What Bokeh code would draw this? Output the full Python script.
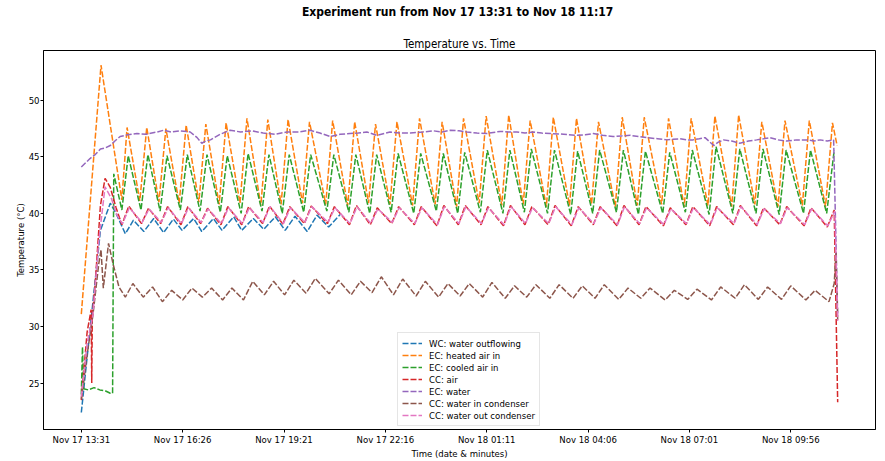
import pandas as pd
from bokeh.plotting import figure
from bokeh.models import (Range1d, FixedTicker, DatetimeTickFormatter, Title,
                          Legend, LegendItem, ColumnDataSource)
from bokeh.embed import file_html
from bokeh.resources import INLINE

# ---------------- data (minutes after 13:31 on Nov 17, temperature in C) ----------------
START = "Nov 17 13:31 2023"
END = "Nov 18 11:17 2023"
suptitle_text = "Experiment run from Nov 17 13:31  to Nov 18 11:17"
title_text = "Temperature vs. Time"
x_label = "Time (date & minutes)"
y_label = "Temperature (°C)"
tick_labels = ["Nov 17 13:31", "Nov 17 16:26", "Nov 17 19:21", "Nov 17 22:16",
               "Nov 18 01:11", "Nov 18 04:06", "Nov 18 07:01", "Nov 18 09:56"]
y_ticks = [25, 30, 35, 40, 45, 50]

names = ["WC: water outflowing", "EC: heated air in", "EC: cooled air in", "CC: air",
         "EC: water", "CC: water in condenser", "CC: water out condenser"]
colors = ["#1f77b4", "#ff7f0e", "#2ca02c", "#d62728", "#9467bd", "#8c564b", "#e377c2"]

wc_out_t = [0, 33, 50, 60, 76, 90, 108, 125, 142, 159, 174, 194, 208, 228, 243, 263, 277,
            297, 315, 335, 352, 369, 390, 407, 427, 447]
wc_out_v = [22.4, 38.5, 40.9, 40.0, 38.2, 39.4, 38.4, 39.55, 38.3, 39.5, 38.5, 39.55, 38.4,
            39.55, 38.5, 39.7, 38.5, 39.55, 38.6, 39.7, 38.5, 39.75, 38.4, 39.85, 38.8, 39.9]

ec_heated_t = [0, 34, 70, 79, 101, 113, 134, 146, 169, 181, 203, 215, 238, 250, 274, 286,
               310, 322, 345, 357, 382, 394, 422, 434, 460, 472, 496, 508, 533, 545, 572,
               584, 611, 623, 648, 660, 687, 699, 726, 738, 763, 775, 803, 815, 843, 855,
               881, 893, 922, 934, 960, 972, 1002, 1014, 1041, 1053, 1082, 1094, 1123,
               1135, 1163, 1175, 1203, 1215, 1245, 1257, 1285, 1297, 1305]
ec_heated_v = [31.1, 53.1, 41.2, 47.6, 41.1, 47.6, 41.0, 47.5, 40.9, 47.8, 41.0, 47.9,
               40.8, 48.0, 40.9, 48.4, 40.7, 48.3, 40.8, 48.3, 40.9, 48.1, 40.8, 48.2,
               40.7, 48.1, 40.9, 47.9, 40.8, 48.1, 40.7, 48.4, 40.8, 48.1, 40.6, 48.4,
               40.9, 48.6, 40.7, 48.7, 40.8, 48.2, 40.6, 48.5, 40.7, 48.4, 40.8, 48.1,
               40.6, 48.5, 40.7, 48.5, 40.8, 48.4, 40.6, 48.4, 40.7, 48.6, 40.6, 48.7,
               40.8, 48.1, 40.6, 48.2, 40.7, 48.2, 40.6, 48.0, 46.0]

ec_cooled_t = [0, 2, 4, 12, 22, 32, 42, 50, 54, 56, 70, 81, 103, 115, 136, 148, 171, 183,
               205, 217, 240, 252, 276, 288, 312, 324, 347, 359, 384, 396, 424, 436, 462,
               474, 498, 510, 535, 547, 574, 586, 613, 625, 650, 662, 689, 701, 728, 740,
               765, 777, 805, 817, 845, 857, 883, 895, 924, 936, 962, 974, 1004, 1016,
               1043, 1055, 1084, 1096, 1125, 1137, 1165, 1177, 1205, 1217, 1247, 1259,
               1287, 1300]
ec_cooled_v = [24.0, 28.2, 24.5, 24.4, 24.6, 24.4, 24.3, 24.1, 24.1, 43.5, 40.3, 45.1,
               40.3, 45.2, 40.2, 45.1, 40.3, 45.2, 40.2, 45.2, 40.1, 45.1, 40.0, 45.3,
               40.2, 45.2, 40.0, 45.2, 40.1, 45.2, 40.2, 45.2, 40.1, 45.2, 40.0, 45.2,
               40.1, 45.3, 40.0, 45.3, 40.2, 45.3, 40.0, 45.4, 40.1, 45.6, 40.0, 45.6,
               40.1, 45.7, 40.0, 45.6, 39.9, 45.5, 40.0, 45.6, 40.1, 45.6, 39.9, 45.5,
               40.0, 45.4, 40.1, 45.6, 39.9, 45.9, 40.0, 45.7, 40.0, 45.7, 39.9, 45.6,
               40.0, 45.6, 40.0, 45.6]

cc_air_t = [0, 10, 17, 18, 19, 24, 33, 41, 50, 60, 70, 82, 104, 116, 137, 149, 172, 184,
            206, 218, 241, 253, 277, 289, 313, 325, 348, 360, 385, 397, 425, 437, 463, 475,
            499, 511, 536, 548, 575, 587, 614, 626, 651, 663, 690, 702, 729, 741, 766, 778,
            806, 818, 846, 858, 884, 896, 925, 937, 963, 975, 1005, 1017, 1044, 1056, 1085,
            1097, 1126, 1138, 1166, 1178, 1206, 1218, 1248, 1260, 1288, 1300, 1306]
cc_air_v = [23.5, 29.5, 31.5, 25.0, 31.0, 33.8, 40.7, 43.1, 42.3, 40.5, 39.0, 40.65,
            39.1, 40.45, 39.1, 40.6, 39.0, 40.6, 39.1, 40.45, 39.0, 40.6, 39.0, 40.6,
            39.1, 40.65, 39.05, 40.6, 39.1, 40.65, 39.1, 40.6, 39.0, 40.7, 39.0, 40.5,
            39.1, 40.6, 39.0, 40.6, 38.9, 40.7, 39.0, 40.7, 39.0, 40.6, 38.9, 40.7,
            39.0, 40.6, 39.0, 40.7, 38.9, 40.6, 39.0, 40.6, 38.9, 40.7, 39.0, 40.6,
            38.9, 40.5, 39.0, 40.6, 38.9, 40.6, 39.0, 40.7, 38.9, 40.5, 39.0, 40.6,
            38.9, 40.5, 38.8, 40.3, 23.3]

ec_water_t = [0, 8, 15, 24, 33, 42, 50, 58, 67, 80, 96, 112, 131, 142, 155, 170, 188, 200,
              208, 215, 223, 240, 257, 275, 295, 314, 335, 355, 375, 395, 412, 430, 447,
              464, 478, 493, 510, 533, 550, 568, 590, 608, 623, 637, 652, 666, 683, 700,
              723, 737, 752, 766, 781, 795, 810, 833, 856, 870, 884, 900, 918, 933, 948,
              962, 977, 995, 1011, 1022, 1034, 1045, 1056, 1067, 1077, 1092, 1100, 1109,
              1123, 1137, 1152, 1166, 1178, 1189, 1203, 1218, 1235, 1253, 1265, 1276,
              1288, 1299, 1306]
ec_water_v = [44.1, 44.5, 44.85, 45.2, 45.7, 45.8, 46.0, 46.4, 46.8, 46.95, 47.06, 47.0,
              47.2, 47.35, 47.2, 47.3, 47.2, 46.7, 46.2, 46.4, 46.5, 47.0, 47.35, 47.2,
              47.3, 47.1, 47.0, 47.2, 47.2, 47.35, 47.1, 46.8, 47.0, 47.06, 47.1, 47.2,
              46.9, 47.2, 47.1, 47.1, 47.2, 47.3, 47.2, 47.35, 47.3, 47.2, 47.1, 47.06,
              47.25, 47.2, 47.2, 47.1, 47.2, 47.1, 47.06, 47.0, 46.9, 46.95, 47.06, 46.9,
              46.8, 46.85, 46.9, 46.8, 46.7, 46.6, 46.5, 46.55, 46.6, 46.5, 46.5, 46.6,
              46.7, 46.0, 46.3, 46.5, 46.4, 46.2, 46.4, 46.5, 46.6, 46.7, 46.5, 46.4,
              46.5, 46.5, 46.4, 46.5, 46.4, 46.5, 31.0]

cc_cond_in_t = [0, 10, 20, 30, 34, 38, 47, 55, 65, 76, 89, 107, 123, 140, 156, 175, 191,
                209, 225, 244, 260, 280, 296, 316, 332, 351, 367, 388, 404, 428, 444, 466,
                482, 502, 518, 539, 555, 578, 594, 617, 633, 654, 670, 693, 709, 732, 748,
                769, 785, 809, 825, 849, 865, 887, 903, 928, 944, 966, 982, 1008, 1024,
                1047, 1063, 1088, 1104, 1129, 1145, 1169, 1185, 1209, 1225, 1251, 1267,
                1291, 1300, 1303, 1306]
cc_cond_in_v = [23.6, 27.5, 31.0, 35.5, 36.8, 33.4, 37.35, 35.5, 33.5, 32.6, 33.8,
                32.6, 33.5, 32.2, 33.2, 32.35, 33.4, 32.6, 33.4, 32.35, 33.4, 32.35, 34.0,
                32.8, 34.0, 32.8, 34.1, 32.95, 34.25, 32.9, 34.1, 32.8, 34.0, 33.0, 34.4,
                32.8, 34.2, 32.7, 34.0, 32.6, 33.8, 32.7, 33.8, 32.6, 33.9, 32.5, 33.6,
                32.6, 33.7, 32.5, 33.7, 32.5, 33.6, 32.5, 33.7, 32.4, 33.4, 32.5, 33.4,
                32.35, 33.2, 32.4, 33.3, 32.35, 33.5, 32.5, 33.7, 32.4, 33.5, 32.4, 33.6,
                32.35, 33.2, 32.2, 33.8, 36.5, 30.6]

cc_cond_out_t = [0, 10, 20, 30, 41, 52, 62, 71, 83, 105, 117, 138, 150, 173, 185, 207, 219,
                 242, 254, 278, 290, 314, 326, 349, 361, 386, 398, 426, 438, 464, 476, 500,
                 512, 537, 549, 576, 588, 615, 627, 652, 664, 691, 703, 730, 742, 767, 779,
                 807, 819, 847, 859, 885, 897, 926, 938, 964, 976, 1006, 1018, 1045, 1057,
                 1086, 1098, 1127, 1139, 1167, 1179, 1207, 1219, 1249, 1261, 1289, 1301, 1306]
cc_cond_out_v = [23.8, 28.5, 31.0, 37.5, 42.35, 41.3, 39.8, 39.1, 40.5,
                 39.2, 40.4, 39.2, 40.5, 39.1, 40.5, 39.2, 40.4, 39.1, 40.5, 39.1, 40.5,
                 39.2, 40.6, 39.1, 40.5, 39.2, 40.6, 39.2, 40.5, 39.1, 40.6, 39.1, 40.4,
                 39.2, 40.5, 39.1, 40.5, 39.0, 40.6, 39.1, 40.6, 39.1, 40.5, 39.0, 40.6,
                 39.1, 40.5, 39.1, 40.6, 39.0, 40.5, 39.1, 40.5, 39.0, 40.6, 39.1, 40.5,
                 39.0, 40.4, 39.1, 40.5, 39.0, 40.5, 39.1, 40.6, 39.0, 40.4, 39.1, 40.5,
                 39.0, 40.4, 38.9, 40.2, 30.5]

series_t = [wc_out_t, ec_heated_t, ec_cooled_t, cc_air_t, ec_water_t, cc_cond_in_t, cc_cond_out_t]
series_v = [wc_out_v, ec_heated_v, ec_cooled_v, cc_air_v, ec_water_v, cc_cond_in_v, cc_cond_out_v]

# visible window (minutes relative to start) and temperature range
x_window = [-65.3, 1371.3]
y_window = [20.9, 54.4]

# ---------------- figure ----------------
FONT = "DejaVu Sans Condensed, DejaVu Sans"
fmt = "%b %d %H:%M"
t0 = pd.to_datetime(START, format=fmt + " %Y")
xr0 = t0 + pd.to_timedelta(x_window[0], unit="m")
xr1 = t0 + pd.to_timedelta(x_window[1], unit="m")

# the trailing empty line keeps the bold heading in the upper part of its band
p = figure(width=885, height=461, output_backend="svg", toolbar_location=None,
           x_axis_type="datetime", title=suptitle_text + "\n",
           x_range=Range1d(start=xr0.to_pydatetime(), end=xr1.to_pydatetime()),
           y_range=Range1d(start=y_window[0], end=y_window[1]),
           min_border_left=43, min_border_right=10, min_border_top=50, min_border_bottom=0)

p.title.align = "center"
p.title.text_font = FONT
p.title.text_font_style = "bold"
p.title.text_font_size = "12px"
p.title.text_color = "black"
p.title.standoff = 4

sub = Title(text=title_text, align="center", text_font=FONT,
            text_font_style="normal", text_font_size="11.5px", text_color="black", standoff=0)
p.add_layout(sub, "above")

items = []
for name, col, tt, vv in zip(names, colors, series_t, series_v):
    src = ColumnDataSource(dict(x=t0 + pd.to_timedelta(tt, unit="m"), y=vv))
    r = p.line("x", "y", source=src, line_color=col, line_width=1.5, line_dash="6 2")
    items.append(LegendItem(label=name, renderers=[r]))

tick_times = [pd.to_datetime(s + " 2023", format=fmt + " %Y") for s in tick_labels]
p.xaxis.ticker = FixedTicker(ticks=[int(t.value // 10**6) for t in tick_times])
p.xaxis.formatter = DatetimeTickFormatter(
    microseconds=fmt, milliseconds=fmt, seconds=fmt, minsec=fmt, minutes=fmt,
    hourmin=fmt, hours=fmt, days=fmt, months=fmt, years=fmt)
p.yaxis.ticker = FixedTicker(ticks=y_ticks)
p.xaxis.axis_label = x_label
p.yaxis.axis_label = y_label

for ax in (p.xaxis[0], p.yaxis[0]):
    ax.axis_line_color = "black"
    ax.major_tick_line_color = "black"
    ax.major_tick_out = 3
    ax.major_tick_in = 0
    ax.minor_tick_line_color = None
    ax.major_label_text_font = FONT
    ax.major_label_text_font_size = "9.5px"
    ax.major_label_text_color = "black"
    ax.major_label_standoff = 1
    ax.axis_label_text_font = FONT
    ax.axis_label_text_font_style = "normal"
    ax.axis_label_text_font_size = "9.5px"
    ax.axis_label_text_color = "black"
    ax.axis_label_standoff = 0

p.xgrid.visible = False
p.ygrid.visible = False
p.outline_line_color = "black"
p.outline_line_alpha = 1.0
p.outline_line_width = 1

legend = Legend(items=items, location=(354, 3))
legend.label_text_font = FONT
legend.label_text_font_size = "9.5px"
legend.label_text_color = "black"
legend.glyph_width = 20
legend.glyph_height = 12
legend.label_height = 12
legend.spacing = 0
legend.padding = 4
legend.margin = 0
legend.label_standoff = 7
legend.border_line_color = "#cccccc"
legend.background_fill_alpha = 0.85
p.add_layout(legend)

open("out.html", "w").write(file_html(p, INLINE))
